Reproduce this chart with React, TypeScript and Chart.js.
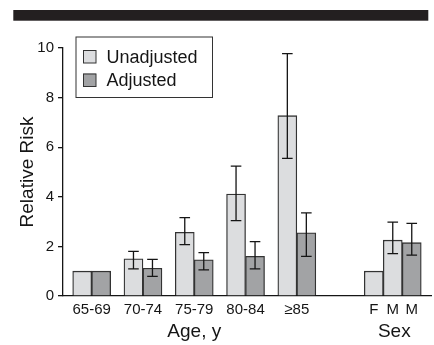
import React, { useEffect, useRef } from 'react';
import { Chart, registerables } from 'chart.js';

Chart.register(...registerables);

// ---------- data ----------
const seriesNames = ['Unadjusted', 'Adjusted'];
const ageLabels = ['65-69', '70-74', '75-79', '80-84', '≥85'];
const sexLabels = ['F', 'M', 'M'];
const ageTitle = 'Age, y';
const sexTitle = 'Sex';
const yTitle = 'Relative Risk';
const yTicks = [0, 2, 4, 6, 8, 10];

const unadjustedAge = [1.0, 1.5, 2.57, 4.11, 7.27];
const unadjustedAgeLow = [null, 1.09, 2.07, 3.04, 5.55];
const unadjustedAgeHigh = [null, 1.8, 3.16, 5.24, 9.77];

const adjustedAge = [1.0, 1.12, 1.46, 1.6, 2.55];
const adjustedAgeLow = [null, 0.79, 1.05, 1.09, 1.6];
const adjustedAgeHigh = [null, 1.48, 1.75, 2.19, 3.35];

// Sex: F (unadjusted), M (unadjusted) ; M (adjusted)
const unadjustedSex = [1.0, 2.25];
const unadjustedSexLow = [null, 1.71];
const unadjustedSexHigh = [null, 2.98];

const adjustedSex = [2.15];
const adjustedSexLow = [1.65];
const adjustedSexHigh = [2.93];

// ---------- layout (in bar-width units) ----------
const AGE_STEP = 2.7;
const SEX_CENTER = 15.85;
const X_MIN = -1.51;
const X_MAX = 17.9;

const FONT = '"Liberation Sans", Arial, Helvetica, sans-serif';
const INK = '#151515';
const LIGHT = '#dcdddf';
const DARK = '#a2a3a5';
const EDGE = '#333333';

const ageCenters = ageLabels.map((_, i) => i * AGE_STEP);
const sexPositions = [SEX_CENTER - 1, SEX_CENTER, SEX_CENTER + 1];
const tickPositions = [...ageCenters, ...sexPositions];
const tickLabels = [...ageLabels, ...sexLabels];

const unadjPoints = [
  ...ageCenters.map((c, i) => ({ x: c - 0.5, y: unadjustedAge[i] })),
  ...unadjustedSex.map((v, i) => ({ x: sexPositions[i], y: v })),
];
const unadjLow = [...unadjustedAgeLow, ...unadjustedSexLow];
const unadjHigh = [...unadjustedAgeHigh, ...unadjustedSexHigh];

const adjPoints = [
  ...ageCenters.map((c, i) => ({ x: c + 0.5, y: adjustedAge[i] })),
  ...adjustedSex.map((v) => ({ x: sexPositions[2], y: v })),
];
const adjLow = [...adjustedAgeLow, ...adjustedSexLow];
const adjHigh = [...adjustedAgeHigh, ...adjustedSexHigh];

const errorBarPlugin = {
  id: 'errorBars',
  afterDatasetsDraw(chart: any) {
    const ctx = chart.ctx;
    const yScale = chart.scales.y;
    chart.data.datasets.forEach((ds: any, di: number) => {
      const meta = chart.getDatasetMeta(di);
      meta.data.forEach((el: any, i: number) => {
        const lo = ds.errLow[i];
        const hi = ds.errHigh[i];
        if (lo == null || hi == null) return;
        const x = el.x;
        const yl = yScale.getPixelForValue(lo);
        const yh = yScale.getPixelForValue(hi);
        const cap = 5.3;
        ctx.save();
        ctx.strokeStyle = INK;
        ctx.lineWidth = 1.3;
        ctx.beginPath();
        ctx.moveTo(x, yh);
        ctx.lineTo(x, yl);
        ctx.moveTo(x - cap, yh);
        ctx.lineTo(x + cap, yh);
        ctx.moveTo(x - cap, yl);
        ctx.lineTo(x + cap, yl);
        ctx.stroke();
        ctx.restore();
      });
    });
  },
};

const decorPlugin = {
  id: 'decor',
  beforeDraw(chart: any) {
    const ctx = chart.ctx;
    ctx.save();
    ctx.fillStyle = '#231f20';
    ctx.fillRect(13.3, 10, 415, 10.7);
    ctx.restore();
  },
  afterDraw(chart: any) {
    const ctx = chart.ctx;
    const xs = chart.scales.x;
    ctx.save();
    // group titles
    ctx.fillStyle = INK;
    ctx.font = `19px ${FONT}`;
    ctx.textAlign = 'center';
    ctx.textBaseline = 'alphabetic';
    const ageMid = (ageCenters[0] + ageCenters[ageCenters.length - 1]) / 2;
    ctx.fillText(ageTitle, xs.getPixelForValue(ageMid), 336.5);
    ctx.fillText(sexTitle, xs.getPixelForValue(SEX_CENTER) + 1.5, 336.5);

    // legend
    ctx.fillStyle = '#ffffff';
    ctx.fillRect(76, 37, 136.5, 60.5);
    ctx.strokeStyle = EDGE;
    ctx.lineWidth = 1;
    ctx.strokeRect(76, 37, 136.5, 60.5);
    ctx.font = `18px ${FONT}`;
    ctx.textAlign = 'left';
    chart.data.datasets.forEach((ds: any, i: number) => {
      const top = 50 + i * 23.5;
      ctx.fillStyle = ds.backgroundColor;
      ctx.fillRect(83, top, 13, 13);
      ctx.strokeStyle = EDGE;
      ctx.lineWidth = 1;
      ctx.strokeRect(83.5, top + 0.5, 12.5, 12.5);
      ctx.fillStyle = INK;
      ctx.fillText(ds.label, 106.5, top + 12.8);
    });
    ctx.restore();
  },
};

export default function App() {
  const ref = useRef<HTMLCanvasElement | null>(null);

  useEffect(() => {
    if (!ref.current) return;
    const chart = new Chart(ref.current, {
      type: 'bar',
      data: {
        datasets: [
          {
            label: seriesNames[0],
            data: unadjPoints,
            backgroundColor: LIGHT,
            borderColor: EDGE,
            borderWidth: 1.3,
            grouped: false,
            barPercentage: 1,
            categoryPercentage: 1,
            errLow: unadjLow,
            errHigh: unadjHigh,
          } as any,
          {
            label: seriesNames[1],
            data: adjPoints,
            backgroundColor: DARK,
            borderColor: EDGE,
            borderWidth: 1.3,
            grouped: false,
            barPercentage: 1,
            categoryPercentage: 1,
            errLow: adjLow,
            errHigh: adjHigh,
          } as any,
        ],
      },
      options: {
        responsive: true,
        maintainAspectRatio: false,
        animation: false,
        layout: { padding: { top: 48, right: 2.3, left: 0, bottom: 0 } },
        plugins: {
          legend: { display: false },
          tooltip: { enabled: false },
        },
        scales: {
          x: {
            type: 'linear',
            min: X_MIN,
            max: X_MAX,
            bounds: 'data',
            offset: false,
            grid: { display: false, drawTicks: false },
            border: { display: true, color: INK, width: 1.3 },
            afterBuildTicks: (s: any) => {
              s.ticks = tickPositions.map((v) => ({ value: v }));
            },
            ticks: {
              autoSkip: false,
              maxRotation: 0,
              minRotation: 0,
              padding: 5,
              color: INK,
              font: { family: FONT, size: 15 },
              callback: (_v: any, i: number) => tickLabels[i],
            },
            afterFit: (s: any) => {
              s.height = 49;
            },
          } as any,
          y: {
            type: 'linear',
            min: 0,
            max: 10,
            afterBuildTicks: (s: any) => {
              s.ticks = yTicks.map((v) => ({ value: v }));
            },
            grid: { drawOnChartArea: false, drawTicks: true, tickLength: 5, color: INK, lineWidth: 1.3 },
            border: { display: true, color: INK, width: 1.3 },
            ticks: { padding: 4, color: INK, font: { family: FONT, size: 15 } },
            title: {
              display: true,
              text: yTitle,
              color: INK,
              font: { family: FONT, size: 19 },
              padding: { top: 16, bottom: 0 },
            },
            afterFit: (s: any) => {
              s.width = 63;
            },
          } as any,
        },
      },
      plugins: [errorBarPlugin, decorPlugin],
    });
    return () => chart.destroy();
  }, []);

  return (
    <div style={{ position: 'absolute', left: 0, top: 0, width: 434, height: 345, background: '#fff' }}>
      <canvas ref={ref} />
    </div>
  );
}
